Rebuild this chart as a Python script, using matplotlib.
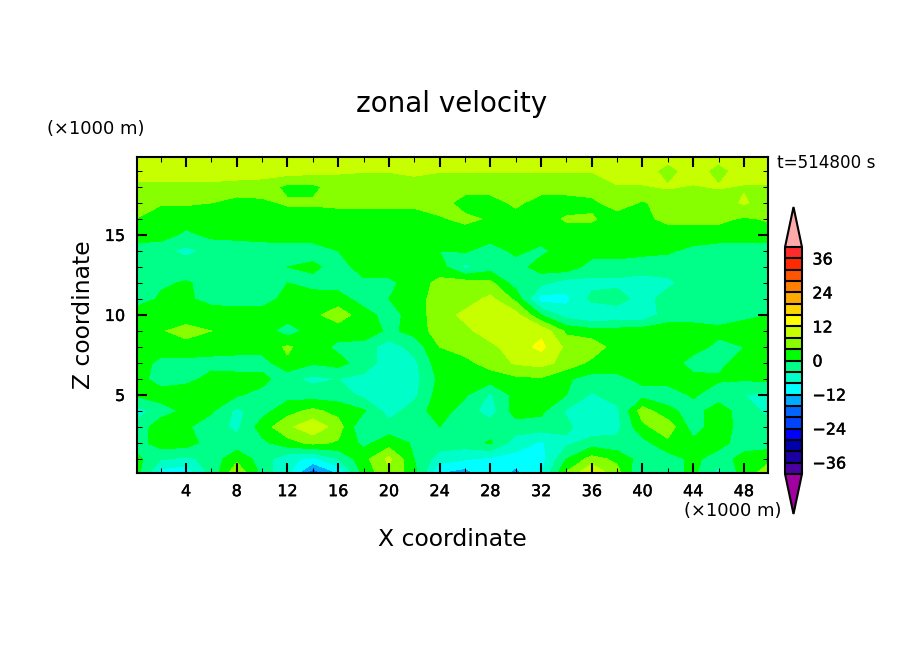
import numpy as np
import matplotlib
matplotlib.use("Agg")
import matplotlib.pyplot as plt
import matplotlib.patheffects as pe
from matplotlib.colors import ListedColormap, BoundaryNorm
from matplotlib.ticker import MultipleLocator

# grid of the section, x and z in 1000 m, u in m/s
x_km = [0, 2, 4, 6, 8, 10, 12, 14, 16, 18, 20, 22, 24, 26, 28, 30, 32, 34, 36, 38, 40, 42, 44, 46, 48, 50]
z_km = list(range(21))

u_z00 = [2, -11, -12, -3, 8, -1, -8, -20, -13, 1, 7, 2, -13, -15, -9, -14, -8, 5, 13, 6, -5, -2, 1, -6, 2, 7]
u_z01 = [1.5, -3.5, -5, -2.5, 3, -2, -7, -9, -4, 2.5, 9, 0, -6, -7.5, -9, -9.5, -10, 0, 5.5, 3, -2, -2, 1, -2, 1.5, 3]
u_z02 = [-2, 2, 2, -2, -2.5, -1, 2.5, 5, 3.5, -1, 2, -0.5, -2, -2, 0.5, -6, -8.5, -5, -2, -3, -1.5, 3, 1, 1.5, -2, -2]
u_z03 = [-3, 2.5, 0.5, -2, -5, 2, 7, 11, 6, -4, -2, -2, 0, -2, -2, -2, -2, -3, -7, -5, 3, 6.5, -2, 2.5, -2, -3]
u_z04 = [-6, -2, 1, 0.5, -5, -1.5, 2.5, 5, 2.5, 0.5, -6, -2, 2, -2, -6, 2, 1, -4.5, -7, -5, 6, 1, -1.5, 2, -2, -5]
u_z05 = [0.5, 2, 3, 3, 0.5, -1.5, -1.5, -2, -2, -5, -6, -5, 2, 0.5, -4.5, 1.5, 2, 0, -4.5, -2, -1.5, -2, 0.5, -2, -4, -5]
u_z06 = [2, -2, -1.5, 1.5, 1.5, 1.5, -3, -5, -4, -5, -7, -5.5, 1, 2, 2, 3, 3.5, 0.5, -1.5, -1, 1, 1.5, 1, 0.5, 0.5, 1]
u_z07 = [2, -1, -1, -1.5, -2, -2, 3.5, 0.5, 1.5, -2, -6, -5, 2.5, 3, 5.5, 8.5, 9.5, 6.5, 3, 2, 2, 2, -1.5, -1, 1.5, 2]
u_z08 = [2, 2, 2, 2, 2, 2, 4.5, 2, -1, -2, -6, -2.5, 4, 5.5, 7, 10, 13, 7, 6.5, 2, 2, 2, 1.5, -1, 0, 2]
u_z09 = [2, 3.5, 6, 4, 2, 2, -2, 1.5, 2, 3, -1, 1.5, 6, 7, 10, 10.5, 11, 3, 1.5, 1.5, 2, 2, 2, 1, 2, 2]
u_z10 = [2, 2, 1, 1.5, 2, 2, 2, 3, 6, 2, -2, 2, 6, 9, 10, 9.5, 0, -6, -8, -7, -7, -2, -2, -2, -1, 0]
u_z11 = [-2, 0.5, 0.5, -1, -2, -2, 1.5, 2, 2, -2, 0, 2, 6, 6, 9, 3, -10, -9, -3, -2, -6, -2, -2, -2, -2, -2]
u_z12 = [-2, -0.5, 0.3, -1, -1, -1, 0, -1.5, -2, -1, -1, 2, 5, 6, 5, -2, -3, -6, -5, -5, -6, -5, -2, -2, -2, -2]
u_z13 = [-2, 0, -2, -2, -2, -2, 0, 1, -2, 2, 2, 2, 2, -5, -2, -2, 2, 2.5, -2, -2, -2, -2, -2, -2, -2, -2]
u_z14 = [-2, -3, -5, -3, -2, -2, -2, -2, 0, 2, 2, 2, 0, 0.5, -2, 1, -1, 2, 2, 2, 1, 0.5, -1, -2, -2, -2]
u_z15 = [2, 2, -1, 1, 1, 1.5, 2, 2, 2, 2, 2, 2, 2, 2, 2, 2, 2, 2, 2, 2, 2, 2, 2, 2, 2, 2]
u_z16 = [4, 2, 2, 2, 2, 2, 2, 2, 2, 2, 2, 2, 3.5, 5, 3.5, 2, 2, 4.5, 4.5, 2, 3, 5, 5, 5, 3.5, 4.5]
u_z17 = [6, 4.4, 4.4, 4, 2.5, 3.2, 4.5, 4.5, 5, 5, 5, 5, 6, 2, 2, 5, 2, 2, 3, 6, 3.5, 6, 6, 6, 8.5, 6]
u_z18 = [7, 7, 7, 7, 6.5, 6, 3, 3, 6, 6, 6, 7.6, 6, 6, 6, 6, 6, 6, 6, 7.7, 7.7, 8.3, 7.7, 8.3, 7.7, 7.7]
u_z19 = [10, 10, 10, 10, 10, 10, 10, 9.5, 8.5, 8.2, 8.2, 8.2, 8.2, 8.2, 8.2, 8.2, 8.2, 8.2, 8.2, 10, 10, 6.5, 10, 6.5, 10, 10]
u_z20 = [10, 10, 10, 10, 10, 10, 10, 10, 10, 10, 10, 10, 10, 10, 10, 10, 10, 10, 10, 10, 10, 10, 10, 10, 10, 10]

u = np.array([u_z00, u_z01, u_z02, u_z03, u_z04, u_z05, u_z06, u_z07, u_z08, u_z09, u_z10,
              u_z11, u_z12, u_z13, u_z14, u_z15, u_z16, u_z17, u_z18, u_z19, u_z20])

levels = list(range(-40, 41, 4))
cbar_ticks = [-36, -24, -12, 0, 12, 24, 36]
colors = ["#4b00a0", "#1a00a0", "#0000aa", "#0000ff", "#0044ff", "#0066ff", "#00aaff",
          "#00ffff", "#00ffc8", "#00ff88", "#00ff00", "#88ff00", "#c8ff00", "#ffff00",
          "#ffd400", "#ffaa00", "#ff8000", "#ff5500", "#ff2a00", "#ff2a2a"]

W, H = 904, 654
fig = plt.figure(figsize=(W / 100, H / 100), dpi=100)


def box(x0, y0, x1, y1):
    return [x0 / W, 1 - y1 / H, (x1 - x0) / W, (y1 - y0) / H]


cmap = ListedColormap(colors)
cmap.set_over("#ffaaaa")
cmap.set_under("#a000a0")
norm = BoundaryNorm(levels, cmap.N)

ax = fig.add_axes(box(137, 157, 768, 473))
cf = ax.contourf(x_km, z_km, u, levels=levels, cmap=cmap, norm=norm, extend="both", antialiased=False)
ax.set_xlim(0.13, 49.9)
ax.set_ylim(0.12, 19.87)

ax.xaxis.set_major_locator(MultipleLocator(4))
ax.xaxis.set_minor_locator(MultipleLocator(2))
ax.yaxis.set_major_locator(MultipleLocator(5))
ax.yaxis.set_minor_locator(MultipleLocator(1))
ax.tick_params(which="major", direction="in", top=True, right=True, length=7, width=1.5, labelsize=11.5)
ax.tick_params(which="minor", direction="in", top=True, right=True, length=3.5, width=0.75)
ax.tick_params(axis="x", which="major", pad=8)
ax.tick_params(axis="y", which="major", pad=8.5)
for s in ax.spines.values():
    s.set_linewidth(1.5)

# the whole bar with both tips, from y=207 to y=514 px
cax = fig.add_axes(box(785, 207, 802, 514))
cb = fig.colorbar(cf, cax=cax, extend="both", extendfrac=0.177, ticks=cbar_ticks, drawedges=True)
cb.outline.set_linewidth(1.5)
cb.dividers.set_linewidth(1.5)
cb.dividers.set_color("black")
cax.tick_params(length=0, labelsize=11.5, pad=7.5)
cax.minorticks_off()

# tick labels are heavier than the thin titles
heavy = [pe.withStroke(linewidth=0.3, foreground="black")]
for t in ax.get_xticklabels() + ax.get_yticklabels() + cax.get_yticklabels():
    t.set_path_effects(heavy)

fig.text(452 / W, 1 - 104 / H, "zonal velocity", ha="center", va="center", fontsize=20)
fig.text(452 / W, 1 - 539 / H, "X coordinate", ha="center", va="center", fontsize=16.9)
fig.text(83 / W, 1 - 315 / H, "Z coordinate", ha="center", va="center", rotation=90, fontsize=16.9)
fig.text(47 / W, 1 - 129 / H, "(×1000 m)", ha="left", va="center", fontsize=12.9)
fig.text(684 / W, 1 - 511 / H, "(×1000 m)", ha="left", va="center", fontsize=12.9)
fig.text(777 / W, 1 - 163 / H, "t=514800 s", ha="left", va="center", fontsize=12.1)

fig.savefig("out.png", dpi=100)
